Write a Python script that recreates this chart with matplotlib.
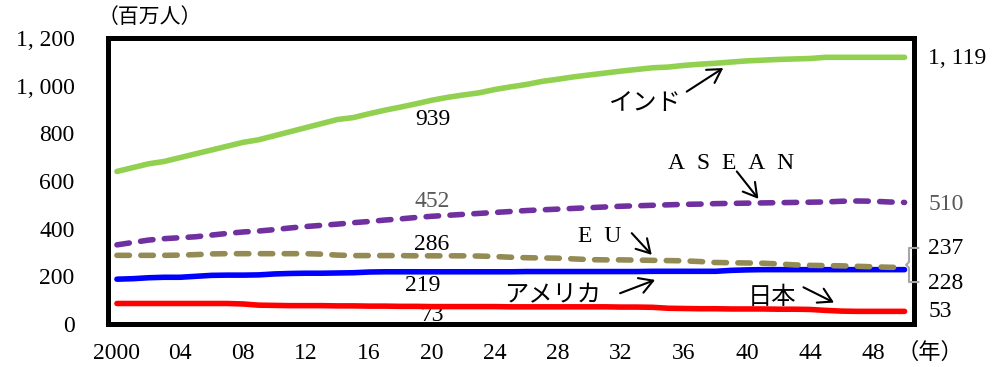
import matplotlib
matplotlib.use("Agg")
import matplotlib.pyplot as plt

# Working-age population (millions), 2000-2050
years = list(range(2000, 2051))
india = [640, 656, 672, 682, 698, 714, 730, 746, 762, 773,
         790, 807, 824, 841, 858, 866, 882, 897, 910, 924,
         939, 951, 961, 970, 984, 995, 1005, 1018, 1027, 1037,
         1045, 1053, 1061, 1068, 1075, 1078, 1085, 1090, 1094, 1099,
         1104, 1107, 1110, 1112, 1114, 1119, 1119, 1119, 1119, 1119, 1119]
asean = [332, 342, 352, 358, 362, 366, 373, 380, 386, 390,
         396, 403, 409, 414, 419, 425, 430, 436, 441, 447,
         452, 456, 460, 464, 468, 472, 476, 479, 482, 485,
         488, 491, 494, 496, 498, 500, 502, 503, 505, 506,
         507, 508, 509, 510, 511, 512, 515, 516, 515, 512, 510]
eu = [288, 288, 288, 288, 289, 291, 294, 295, 295, 295,
      295, 295, 295, 293, 289, 287, 287, 287, 287, 286,
      286, 286, 286, 285, 283, 280, 278, 277, 276, 273,
      270, 269, 269, 268, 267, 266, 265, 262, 258, 257,
      256, 255, 252, 248, 246, 245, 244, 242, 240, 238, 237]
usa = [188, 190, 194, 196, 196, 200, 204, 205, 205, 206,
       210, 212, 213, 213, 214, 215, 218, 219, 219, 219,
       219, 219, 219, 219, 219, 219, 220, 220, 220, 220,
       220, 220, 220, 220, 221, 221, 221, 221, 221, 225,
       227, 228, 228, 228, 228, 228, 228, 228, 228, 228, 228]
japan = [86, 86, 86, 86, 86, 86, 86, 86, 84, 79,
         78, 77, 77, 77, 76, 76, 75, 75, 74, 74,
         73, 73, 73, 73, 73, 72, 72, 72, 72, 72,
         72, 72, 71, 71, 70, 66, 65, 64, 64, 63,
         63, 63, 62, 62, 61, 57, 54, 53, 53, 53, 53]

x_ticks = list(range(2000, 2050, 4))
x_tick_labels = ["2000", "04", "08", "12", "16", "20", "24",
                 "28", "32", "36", "40", "44", "48"]
y_ticks = [0, 200, 400, 600, 800, 1000, 1200]
y_tick_labels = ["0", "200", "400", "600", "800", "1, 000", "1, 200"]

GREEN = "#92D050"
PURPLE = "#7030A0"
OLIVE = "#948A54"
BLUE = "#0000FF"
RED = "#FF0000"
GRAY = "#595959"

NUM = ["Liberation Serif", "Noto Sans CJK JP"]
JP = ["Noto Sans CJK JP", "DejaVu Sans"]
EN = "\u2002"

plt.rcParams["lines.scale_dashes"] = False

fig = plt.figure(figsize=(9.96, 3.67), dpi=100)
ax = fig.add_axes([0.1084, 0.1172, 0.8093, 0.7793])

lw = 4.0
dash = (9.0, 8.2)
ax.plot(years, india, color=GREEN, lw=lw, solid_capstyle="round", zorder=3)
ax.plot(years, asean, color=PURPLE, lw=lw, dashes=dash,
        dash_capstyle="round", zorder=3)
ax.plot(years, usa, color=BLUE, lw=lw, solid_capstyle="round", zorder=3)
ax.plot(years, eu, color=OLIVE, lw=lw, dashes=dash,
        dash_capstyle="round", zorder=3)
ax.plot(years, japan, color=RED, lw=lw, solid_capstyle="round", zorder=3)

ax.set_xlim(1999.43, 2050.6)
ax.set_ylim(0, 1200)
ax.set_xticks(x_ticks)
ax.set_xticklabels(x_tick_labels, family=NUM, fontsize=17)
ax.set_yticks(y_ticks)
ax.set_yticklabels(y_tick_labels, family=NUM, fontsize=17)
ax.tick_params(axis="both", length=0)
ax.tick_params(axis="y", pad=24)
ax.tick_params(axis="x", pad=14)

for s in ax.spines.values():
    s.set_linewidth(3.6)
    s.set_color("black")
    s.set_zorder(5)

# Unit labels
ax.text(2002.1, 1286, "（百万人）", family=JP, fontsize=15,
        ha="center", va="center", clip_on=False)
ax.text(2051.6, -118, "（年）", family=JP, fontsize=16,
        ha="center", va="center", clip_on=False)

# 2020 values inside the plot
ax.text(2020.06, 857, "939", family=NUM, fontsize=17, ha="center", va="center")
ax.text(2020.0, 515, "452", family=NUM, fontsize=17, ha="center",
        va="center", color=GRAY)
ax.text(2020.0, 332, "286", family=NUM, fontsize=17, ha="center", va="center")
ax.text(2019.4, 160, "219", family=NUM, fontsize=17, ha="center", va="center")
ax.text(2020.0, 34, "73", family=NUM, fontsize=17, ha="center",
        va="center", zorder=1)

# 2050 values at the right edge
rx = 2051.5
ax.text(rx, 1113, "1, 119", family=NUM, fontsize=17, ha="left",
        va="center", clip_on=False)
ax.text(rx, 500, "510", family=NUM, fontsize=17, ha="left",
        va="center", color=GRAY, clip_on=False)
ax.text(rx, 317, "237", family=NUM, fontsize=17, ha="left",
        va="center", clip_on=False)
ax.text(rx, 170, "228", family=NUM, fontsize=17, ha="left",
        va="center", clip_on=False)
ax.text(rx, 52, "53", family=NUM, fontsize=17, ha="left",
        va="center", clip_on=False)

# Brace joining the EU / USA end values
ax.plot([2050.87, 2050.28, 2050.28, 2050.1, 2050.28, 2050.28, 2050.87],
        [319, 319, 260, 248, 236, 176, 176],
        color="#A6A6A6", lw=1.5, clip_on=False, zorder=6)

# Series names with arrows
ax.text(2033.52, 929, "インド", family=JP, fontsize=17.5, ha="center",
        va="center")
ax.text(2038.98, 672, EN.join("ASEAN"), family=NUM, fontsize=17,
        ha="center", va="center")
ax.text(2030.67, 368, EN.join("EU"), family=NUM, fontsize=17, ha="center",
        va="center")
ax.text(2027.65, 122, "アメリカ", family=JP, fontsize=17.5, ha="center",
        va="center")
ax.text(2041.56, 113, "日本", family=JP, fontsize=17.5, ha="center",
        va="center")

arrow = dict(arrowstyle="->,head_length=0.6,head_width=0.35", lw=1.5,
             color="black", shrinkA=0, shrinkB=0)
for tail, head in [((2036.17, 975), (2038.49, 1074)),
                   ((2039.35, 640), (2040.72, 525)),
                   ((2032.68, 381), (2033.95, 290)),
                   ((2031.94, 129), (2034.16, 185)),
                   ((2043.58, 154), (2045.52, 90))]:
    ax.annotate("", xy=head, xytext=tail, arrowprops=arrow, fontsize=16)

fig.savefig("out.png", dpi=100, facecolor="white")
